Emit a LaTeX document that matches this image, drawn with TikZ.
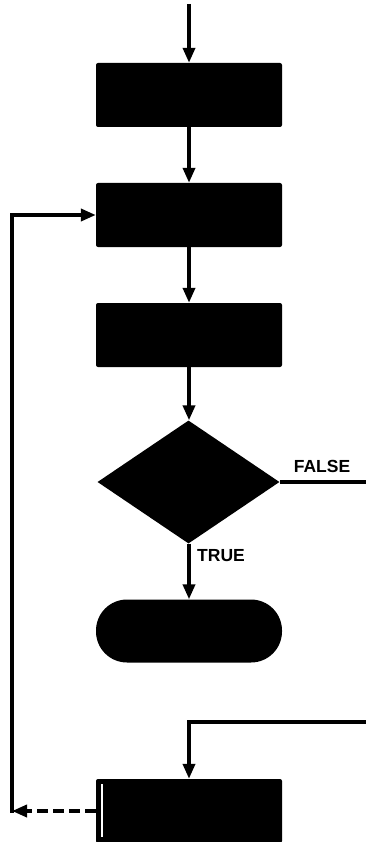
\documentclass[tikz,border=0pt]{standalone}
\usepackage{fontspec}
\setmainfont{Liberation Sans}
\usetikzlibrary{arrows.meta,shapes.geometric}
\begin{document}
\begin{tikzpicture}[x=1pt,y=-1pt,
  flow/.style={line width=3.6pt},
  tip/.style={-{Triangle[length=15pt,width=12pt]}},
  blk/.style={draw=none,fill=black,rounded corners=2pt,minimum width=186pt,minimum height=64pt,inner sep=0pt},
  dec/.style={diamond,draw=none,fill=black,minimum width=182pt,minimum height=123pt,inner sep=0pt},
  term/.style={draw=none,fill=black,rounded corners=31pt,minimum width=186pt,minimum height=63pt,inner sep=0pt},
  lbl/.style={font=\fontsize{17.5}{18}\selectfont\bfseries,inner sep=0pt}]
\useasboundingbox (0,0) rectangle (366,842);
\clip (0,0) rectangle (366,842);
\node[blk] (b1) at (189,95) {};
\node[blk] (b2) at (189,215) {};
\node[blk] (b3) at (189,335) {};
\node[dec] (d) at (188.5,482) {};
\node[term] (t) at (189,631) {};
\node[blk] (b5) at (189,811) {};
\draw[white,line width=1.5pt] (102,784) -- (102,837);
\coordinate (top) at (189,4);
\coordinate (fr) at (366,482);
\coordinate (fr2) at (366,722);
\coordinate (j) at (189,722);
\coordinate (ll) at (12,811);
\coordinate (lb) at (12,812.8);
\coordinate (lt) at (12,215);
\draw[flow,tip] (top) -- (b1.north -| top);
\draw[flow,tip] (b1.south -| top) -- (b2.north -| top);
\draw[flow,tip] (b2.south -| top) -- (b3.north -| top);
\draw[flow,tip] (b3.south -| top) -- (d.north -| top);
\draw[flow,tip] (d.south -| top) -- (t.north -| top);
\draw[flow] (d.east) -- (fr);
\draw[flow,tip] (fr2) -- (j) -- (b5.north -| j);
\draw[flow,dash pattern=on 11pt off 5pt,-{Triangle[length=15pt,width=12pt]}] (b5.west) -- (ll);
\draw[flow,tip] (lb) -- (lt) -- (b2.west);
\node[lbl] (fl) at (322,466) {FALSE};
\node[lbl] (tl) at (221,556) {TRUE};
\end{tikzpicture}
\end{document}
